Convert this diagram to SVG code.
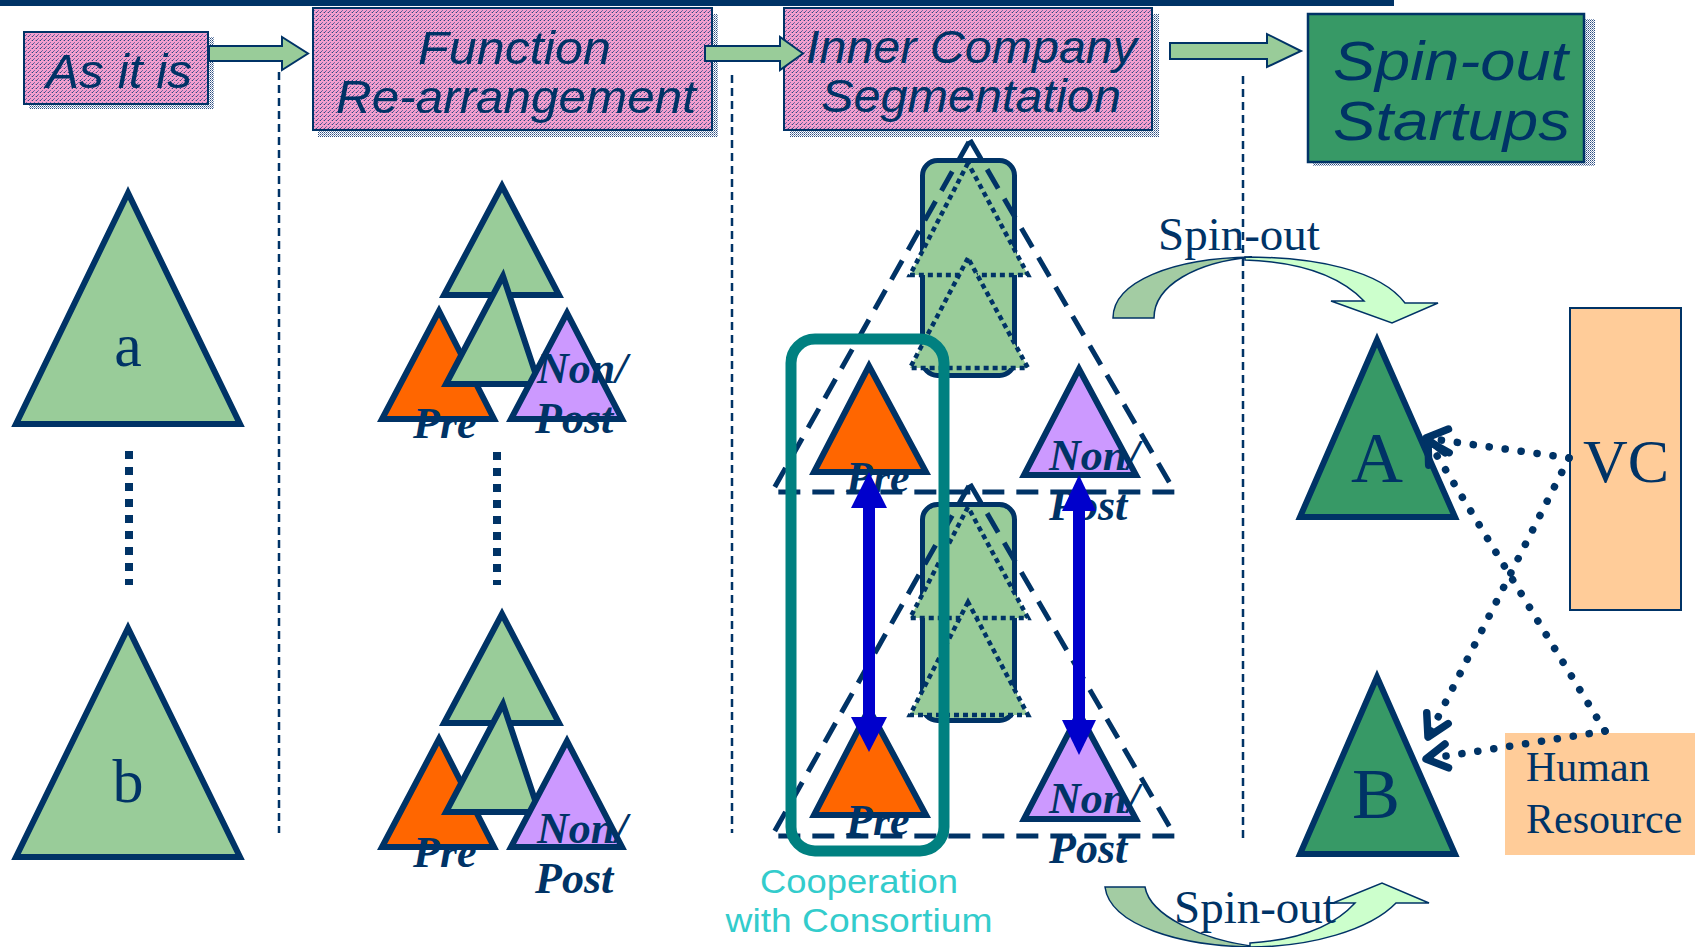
<svg xmlns="http://www.w3.org/2000/svg" width="1695" height="947" viewBox="0 0 1695 947">
<defs>
<pattern id="pinkTex" width="4" height="4" patternUnits="userSpaceOnUse"><rect width="4" height="4" fill="#F5A0CE"/><rect x="0" y="0" width="1" height="1" fill="#2A4A80"/><rect x="2" y="2" width="1" height="1" fill="#7A6AA8"/><rect x="3" y="0" width="1" height="1" fill="#C27FB8"/><rect x="1" y="3" width="1" height="1" fill="#5A5A98"/></pattern>
<pattern id="shadowTex" width="2" height="2" patternUnits="userSpaceOnUse"><rect width="2" height="2" fill="#FFFFFF"/><rect width="1" height="1" fill="#2B4C7E"/><rect x="1" y="1" width="1" height="1" fill="#8095B8"/></pattern>
<marker id="openArrow" markerUnits="userSpaceOnUse" markerWidth="38" markerHeight="38" viewBox="0 0 38 38" refX="30" refY="19" orient="auto"><path d="M9,7 L30,19 L9,31" fill="none" stroke="#003366" stroke-width="7.5" stroke-linecap="round" stroke-linejoin="round"/></marker>
</defs>
<style>
.tri{stroke:#003366;stroke-width:6;stroke-linejoin:miter}
.g{fill:#99CC99}
.o{fill:#FF6600}
.p{fill:#CC99FF}
.dg{fill:#379966}
.sep{stroke:#003366;stroke-width:2.5;stroke-dasharray:8 5;fill:none}
.vdots{stroke:#003366;stroke-width:8;stroke-dasharray:8 8;fill:none}
.bigdash{stroke:#003366;stroke-width:5;stroke-dasharray:22 12;fill:none}
.dotri{fill:#99CC99;stroke:#003366;stroke-width:4.5;stroke-dasharray:5 4}
.hbox{fill:url(#pinkTex);stroke:#003366;stroke-width:2}
.shadow{fill:url(#shadowTex)}
.htxt{font-family:"Liberation Sans",Arial,sans-serif;font-style:italic;fill:#003366}
.lbl{font-family:"Liberation Serif","Times New Roman",serif;font-weight:bold;font-style:italic;fill:#003366;font-size:44px}
.serif{font-family:"Liberation Serif","Times New Roman",serif;fill:#003366}
.blockarrow{fill:#99CC99;stroke:#003366;stroke-width:2}
.dotline{stroke:#003366;stroke-width:7.5;stroke-dasharray:0.1 16;stroke-linecap:round;fill:none;marker-end:url(#openArrow)}
.blue{fill:#0000CC}
.curveDark{fill:#A3CCA3;stroke:#003366;stroke-width:1.5}
.curveLight{fill:#CCFFCC;stroke:#003366;stroke-width:1.5}
</style>

<rect x="0" y="0" width="1394" height="6" fill="#003366"/>

<g id="separators">
<line class="sep" x1="279" y1="72" x2="279" y2="833"/>
<line class="sep" x1="732" y1="75" x2="732" y2="833"/>
<line class="sep" x1="1243" y1="76" x2="1243" y2="838"/>
</g>

<g id="as-it-is-column">
<polygon class="tri g" points="128,193 16,424 240,424"/>
<text class="serif" x="128" y="366" font-size="62" text-anchor="middle">a</text>
<line class="vdots" x1="129" y1="451" x2="129" y2="585"/>
<polygon class="tri g" points="128,628 16,857 240,857"/>
<text class="serif" x="128" y="802" font-size="62" text-anchor="middle">b</text>
</g>

<g id="function-top">
<polygon class="tri g" points="502,186 444,295 559,295"/>
<polygon class="tri o" points="439,311 382,419 494,419"/>
<polygon class="tri g" points="503,276 446,384 539,384"/>
<polygon class="tri p" points="567,313 511,419 622,419"/>
<text class="lbl" x="413" y="438">Pre</text>
<text class="lbl" x="537" y="383">Non/</text>
<text class="lbl" x="535" y="433">Post</text>
</g>
<line class="vdots" x1="497" y1="452" x2="497" y2="585"/>
<g id="function-bottom">
<polygon class="tri g" points="502,614 444,723 559,723"/>
<polygon class="tri o" points="439,739 382,847 494,847"/>
<polygon class="tri g" points="503,704 446,812 539,812"/>
<polygon class="tri p" points="567,741 511,847 622,847"/>
<text class="lbl" x="413" y="867">Pre</text>
<text class="lbl" x="537" y="843">Non/</text>
<text class="lbl" x="535" y="893">Post</text>
</g>

<g id="segment-upper-common">
<rect x="922.5" y="160.5" width="92" height="215" rx="15" fill="#99CC99" stroke="#003366" stroke-width="5"/>
<polygon class="dotri" points="968,163 910,275 1028,275"/>
<polygon class="dotri" points="968,258 910,368 1028,368"/>
</g>
<g id="segment-lower-common">
<rect x="922.5" y="504.5" width="92" height="216" rx="15" fill="#99CC99" stroke="#003366" stroke-width="5"/>
<polygon class="dotri" points="968,507 910,618 1028,618"/>
<polygon class="dotri" points="968,602 910,715 1028,715"/>
</g>
<g id="segment-upper-frame"><path class="bigdash" d="M970,140 L1175,492 L772,492 Z"/></g>
<g id="segment-lower-frame"><path class="bigdash" d="M970,484 L1175,836 L772,836 Z"/></g>

<g id="segment-upper-pre">
<polygon class="tri o" points="869,366 814,472 926,472"/>
<text class="lbl" x="846" y="492" font-size="43">Pre</text>
</g>
<g id="segment-upper-post">
<polygon class="tri p" points="1079,369 1024,475 1136,475"/>
<text class="lbl" x="1049" y="470" font-size="43">Non/</text>
<text class="lbl" x="1049" y="520" font-size="43">Post</text>
</g>
<g id="segment-lower-pre">
<polygon class="tri o" points="869,709 814,815 926,815"/>
<text class="lbl" x="846" y="835" font-size="43">Pre</text>
</g>
<g id="segment-lower-post">
<polygon class="tri p" points="1079,713 1024,819 1136,819"/>
<text class="lbl" x="1049" y="813" font-size="43">Non/</text>
<text class="lbl" x="1049" y="863" font-size="43">Post</text>
</g>

<g id="cooperation">
<rect x="791" y="339" width="153" height="512" rx="24" fill="none" stroke="#008080" stroke-width="11"/>
<text x="859" y="893" font-family="'Liberation Sans',Arial,sans-serif" font-size="33" fill="#33CCCC" text-anchor="middle" textLength="198" lengthAdjust="spacingAndGlyphs">Cooperation</text>
<text x="859" y="932" font-family="'Liberation Sans',Arial,sans-serif" font-size="33" fill="#33CCCC" text-anchor="middle" textLength="267" lengthAdjust="spacingAndGlyphs">with Consortium</text>
</g>

<g id="startup-A">
<polygon class="tri dg" points="1377,340 1300,517 1455,517"/>
<text class="serif" x="1377" y="482" font-size="72" text-anchor="middle">A</text>
</g>
<g id="startup-B">
<polygon class="tri dg" points="1377,677 1300,854 1455,854"/>
<text class="serif" x="1376" y="818" font-size="72" text-anchor="middle">B</text>
</g>
<g id="vc">
<rect x="1570" y="308" width="111" height="302" fill="#FFCC99" stroke="#003366" stroke-width="2"/>
<text class="serif" x="1626" y="482" font-size="62" text-anchor="middle">VC</text>
</g>
<g id="human-resource">
<rect x="1505" y="733" width="190" height="122" fill="#FFCC99"/>
<text class="serif" x="1526" y="781" font-size="42">Human</text>
<text class="serif" x="1526" y="833" font-size="42">Resource</text>
</g>

<g id="header-as-it-is">
<rect class="shadow" x="29" y="37" width="185" height="72"/>
<rect class="hbox" x="24" y="32" width="184" height="72"/>
<text class="htxt" x="46" y="88" font-size="48" textLength="146" lengthAdjust="spacingAndGlyphs">As it is</text>
</g>
<g id="header-function">
<rect class="shadow" x="318" y="14" width="400" height="123"/>
<rect class="hbox" x="313" y="8" width="399" height="122"/>
<text class="htxt" x="418" y="64" font-size="47" textLength="193" lengthAdjust="spacingAndGlyphs">Function</text>
<text class="htxt" x="336" y="113" font-size="47" textLength="360" lengthAdjust="spacingAndGlyphs">Re-arrangement</text>
</g>
<g id="header-inner">
<rect class="shadow" x="790" y="14" width="369" height="123"/>
<rect class="hbox" x="784" y="8" width="368" height="122"/>
<text class="htxt" x="806" y="63" font-size="47" textLength="331" lengthAdjust="spacingAndGlyphs">Inner Company</text>
<text class="htxt" x="821" y="112" font-size="47" textLength="300" lengthAdjust="spacingAndGlyphs">Segmentation</text>
</g>
<g id="header-spinout">
<rect class="shadow" x="1313" y="19" width="282" height="147"/>
<rect x="1308" y="14" width="276" height="148" fill="#379966" stroke="#003366" stroke-width="2.5"/>
<text class="htxt" x="1333" y="80" font-size="56" textLength="235" lengthAdjust="spacingAndGlyphs">Spin-out</text>
<text class="htxt" x="1333" y="140" font-size="56" textLength="237" lengthAdjust="spacingAndGlyphs">Startups</text>
</g>

<g id="connectors">
<polygon class="blockarrow" points="209,46 282,46 282,37 308,53.5 282,70 282,61 209,61"/>
<polygon class="blockarrow" points="705,46 780,46 780,37 803,53.5 780,70 780,61 705,61"/>
<polygon class="blockarrow" points="1170,43 1267,43 1267,34 1301,51 1267,67 1267,59 1170,59"/>

<rect class="blue" x="863" y="505" width="12" height="215"/>
<polygon class="blue" points="869,472 887,508 851,508"/>
<polygon class="blue" points="851,717 887,717 869,752"/>
<rect class="blue" x="1073" y="508" width="12" height="215"/>
<polygon class="blue" points="1079,475 1096,511 1062,511"/>
<polygon class="blue" points="1062,720 1096,720 1079,755"/>

<path class="curveDark" d="M1113,318 C1113,282 1172,258 1252,257 C1197,262 1154,285 1154,318 Z"/>
<path class="curveLight" d="M1245,257 C1315,257 1380,270 1405,303 L1438,303 L1392,323 L1331,301 L1364,301 C1340,276 1300,262 1245,260 Z"/>
<text class="serif" x="1158" y="250" font-size="47">Spin-out</text>

<path class="curveDark" d="M1105,887 C1110,925 1180,947 1258,947 C1200,940 1150,915 1145,887 Z"/>
<path class="curveLight" d="M1250,947 C1310,947 1370,930 1396,903 L1429,903 L1382,883 L1333,903 L1355,903 C1335,925 1300,940 1250,943 Z"/>
<text class="serif" x="1174" y="923" font-size="47">Spin-out</text>

<path class="dotline" d="M1569,458 L1426,438"/>
<path class="dotline" d="M1569,458 L1428,737"/>
<path class="dotline" d="M1605,731 L1428,441"/>
<path class="dotline" d="M1605,731 Q1520,745 1426,759"/>
</g>
</svg>
